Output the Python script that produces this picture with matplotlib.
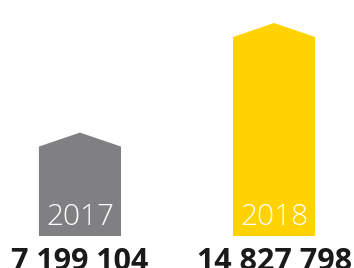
import matplotlib

matplotlib.use("Agg")
import matplotlib.pyplot as plt

years = ["2017", "2018"]
values = [7199104, 14827798]
value_labels = ["7 199 104", "14 827 798"]
colors = ["#808082", "#ffd200"]

fig = plt.figure(figsize=(3.54, 2.68), dpi=100)
ax = fig.add_axes([0, 0, 1, 1])
ax.set_xlim(-0.412, 1.412)
ax.set_ylim(-2.23e6, 16.43e6)
ax.axis("off")

width = 0.423
cap = 0.975e6  # height of the pointed roof
for i, (v, c) in enumerate(zip(values, colors)):
    l, r = i - width / 2, i + width / 2
    ax.fill([l, l, i, r, r], [0, v - cap, v, v - cap, 0], color=c, linewidth=0)
    ax.text(i, 0.3e6, years[i], ha="center", va="bottom", color="white",
            fontsize=21.5, family="Open Sans", fontweight="light")
    ax.text(i, -0.78e6, value_labels[i], ha="center", va="top", color="#1a1a1a",
            fontsize=22, family="Open Sans", fontweight="bold")

fig.savefig("out.png", dpi=100)
